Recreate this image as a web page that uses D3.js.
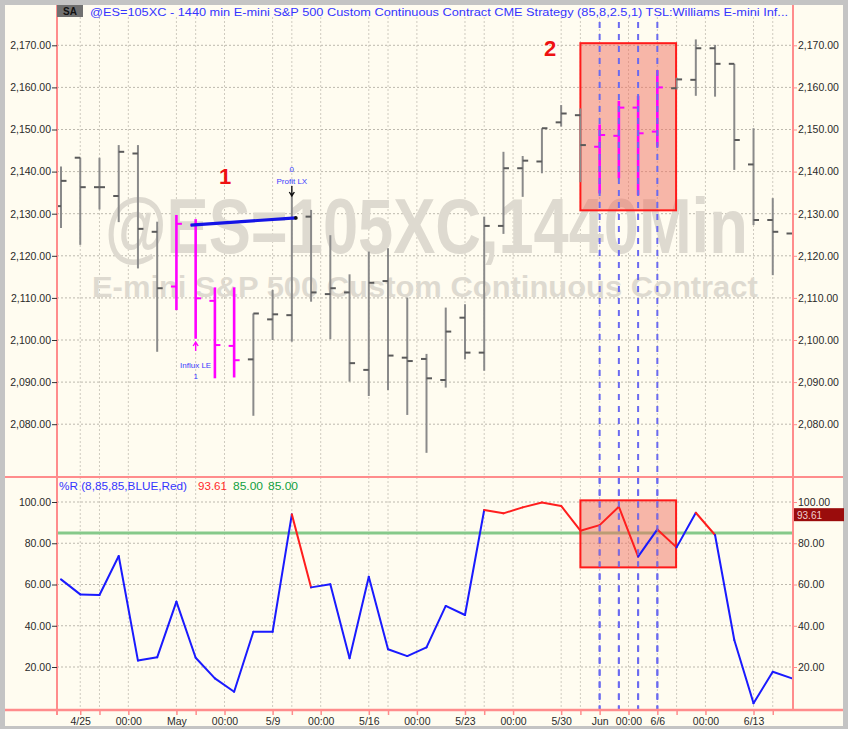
<!DOCTYPE html>
<html><head><meta charset="utf-8">
<script src="https://cdn.jsdelivr.net/npm/d3@7"></script>
<style>body{margin:0;background:#c4c4c4;overflow:hidden}svg{display:block}</style>
</head><body><svg id="c" width="848" height="729"></svg>
<script>
// ---------- data ----------
const dates = ["4/22","4/25","4/26","4/27","4/28","4/29","5/2","5/3","5/4","5/5","5/6","5/9","5/10","5/11","5/12","5/13","5/16","5/17","5/18","5/19","5/20","5/23","5/24","5/25","5/26","5/27","5/30","5/31","6/1","6/2","6/3","6/6","6/7","6/8","6/9","6/10","6/13","6/14","6/15"];
const openP  = [2131.8,2143.3,2136.3,2134.2,2144.3,2125.7,2112.7,2127.3,2109.3,2098.6,2095.4,2104.9,2105.9,2129.3,2110.9,2111.3,2092.9,2114.0,2095.8,2095.5,2090.5,2105.3,2097.0,2127.1,2140.8,2142.4,2151.7,2153.4,2145.9,2148.5,2155.2,2149.5,2159.8,2161.8,2169.3,2165.6,2141.7,2128.5,2125.3];
const highP  = [2141.2,2143.3,2143.3,2146.3,2146.3,2128.1,2129.7,2128.7,2112.5,2112.5,2106.3,2111.9,2134.8,2130.9,2124.9,2115.6,2121.0,2121.8,2110.1,2096.7,2107.7,2108.5,2129.3,2144.7,2143.7,2150.3,2155.8,2155.0,2151.2,2156.8,2158.0,2164.1,2162.3,2171.4,2170.1,2165.6,2150.3,2133.7,2125.3];
const lowP   = [2126.6,2122.6,2131.0,2128.0,2117.0,2097.2,2107.1,2100.3,2090.9,2091.1,2082.0,2100.0,2099.6,2109.1,2100.2,2090.1,2086.7,2088.1,2082.2,2073.2,2088.7,2095.4,2092.7,2125.2,2134.0,2139.6,2150.7,2137.5,2134.8,2138.4,2134.4,2145.9,2159.5,2158.0,2157.8,2140.4,2127.3,2115.4,2125.3];
const closeP = [2137.8,2136.3,2136.3,2144.7,2126.4,2112.3,2127.6,2109.9,2098.8,2095.2,2106.3,2106.1,2128.9,2111.3,2112.3,2094.5,2113.6,2096.3,2095.0,2090.9,2102.0,2097.0,2127.1,2140.8,2142.6,2150.3,2153.8,2146.3,2148.7,2155.2,2149.1,2160.0,2161.9,2169.3,2165.6,2147.5,2128.5,2125.7,2125.3];
const pctR = [62.5,55.2,54.9,73.8,23.1,24.7,51.7,24.5,14.5,8.0,37.1,37.1,94.0,58.6,60.1,24.2,63.8,28.6,25.3,29.5,49.6,45.2,96.1,94.5,97.4,99.8,98.1,86.1,88.8,97.7,73.5,86.7,78.0,94.8,84.0,33.1,2.4,17.7,14.5];
const signalBars = [6,7,8,9,28,29,30,31];
const setupDates = ["6/1","6/2","6/3","6/6"];
const threshold = 85;
const lastPctR = "93.61";
const priceTicks = [2080,2090,2100,2110,2120,2130,2140,2150,2160,2170];
const pctTicks = [20,40,60,80,100];
const xLabelText = ["4/25","00:00","May","00:00","5/9","00:00","5/16","00:00","5/23","00:00","5/30","Jun","00:00","6/6","00:00","6/13"];
const xLabelPos  = [1,3.5,6,8.5,11,13.5,16,18.5,21,23.5,26,28,29.5,31,33.5,36];
const xMinorPos  = [2,7,12,17,22,27,32,37];
const trade = {entryBar:7, entryPrice:2127.3, exitBar:12, exitPrice:2129.0};
const box2 = {fromBar:27, toBar:32, top:2170.5, bottom:2130.8, rTop:100.8, rBottom:68.3};

// ---------- layout ----------
const svg = d3.select("#c");
const L = 57, R = 793, TOP = 5, MID = 477, BOT = 710;
const x = d3.scaleLinear().domain([0, dates.length - 1]).range([61, 792]);
const yP = d3.scaleLinear().domain([2080, 2170]).range([424.2, 45.3]);
const yR = d3.scaleLinear().domain([20, 100]).range([667, 502]);
const font = "'Liberation Sans', Arial, sans-serif";

svg.append("rect").attr("x",5).attr("y",5).attr("width",838).attr("height",721).attr("fill","#fffcf0");

const defs = svg.append("defs");
defs.append("clipPath").attr("id","cu").append("rect").attr("x",L).attr("y",17).attr("width",R-L).attr("height",MID-17);
defs.append("clipPath").attr("id","cl").append("rect").attr("x",L).attr("y",MID+1).attr("width",R-L).attr("height",BOT-MID-1);

// vertical grid
const vg = xLabelPos.concat(xMinorPos);
svg.append("g").selectAll("line").data(vg).join("line")
  .attr("x1",d=>x(d)).attr("x2",d=>x(d)).attr("y1",17).attr("y2",BOT)
  .attr("stroke","#cfcbbf").attr("stroke-width",1).attr("stroke-dasharray","2,2");
// horizontal grid
svg.append("g").selectAll("line").data(priceTicks).join("line")
  .attr("x1",L).attr("x2",R).attr("y1",d=>yP(d)).attr("y2",d=>yP(d))
  .attr("stroke","#bdb9ae").attr("stroke-width",1).attr("stroke-dasharray","2,2");
svg.append("g").selectAll("line").data(pctTicks).join("line")
  .attr("x1",L).attr("x2",R).attr("y1",d=>yR(d)).attr("y2",d=>yR(d))
  .attr("stroke","#bdb9ae").attr("stroke-width",1).attr("stroke-dasharray","2,2");

// watermark (scaled horizontally to the reference's lettering)
const up = svg.append("g").attr("clip-path","url(#cu)");
up.append("text").attr("transform","translate(105,253) scale(0.81,1)")
  .attr("font-family",font).attr("font-weight","bold").attr("font-size",78).attr("fill","#dedad0").text("@ES=105XC,1440Min");
up.append("text").attr("transform","translate(92,297) scale(1.066,1)")
  .attr("font-family",font).attr("font-weight","bold").attr("font-size",29).attr("fill","#dedad0").text("E-mini S&P 500 Custom Continuous Contract");

// upper highlight box
const bx0 = x(box2.fromBar), bx1 = x(box2.toBar) - 0.5;
up.append("rect").attr("x",bx0).attr("y",yP(box2.top)).attr("width",bx1-bx0).attr("height",yP(box2.bottom)-yP(box2.top))
  .attr("fill","#f07060").attr("fill-opacity",0.5).attr("stroke","#ff1a1a").attr("stroke-width",2);

// dashed setup lines
svg.append("g").selectAll("line").data(setupDates).join("line")
  .attr("x1",d=>x(dates.indexOf(d))).attr("x2",d=>x(dates.indexOf(d))).attr("y1",22).attr("y2",BOT)
  .attr("stroke","#6a6af0").attr("stroke-width",2).attr("stroke-dasharray","6,6");

// OHLC bars
const bars = up.append("g").selectAll("g").data(dates).join("g");
const col = (i) => signalBars.includes(i) ? "#ff00ff" : "#8a8a8a";
const tcol = (i) => signalBars.includes(i) ? "#ff00ff" : "#5a5a5a";
bars.append("line").attr("x1",(d,i)=>x(i)).attr("x2",(d,i)=>x(i))
  .attr("y1",(d,i)=>yP(highP[i])).attr("y2",(d,i)=>yP(lowP[i]))
  .attr("stroke",(d,i)=>col(i)).attr("stroke-width",(d,i)=>signalBars.includes(i)?2.6:2);
bars.append("line").attr("x1",(d,i)=>x(i)-5.5).attr("x2",(d,i)=>x(i))
  .attr("y1",(d,i)=>yP(openP[i])).attr("y2",(d,i)=>yP(openP[i]))
  .attr("stroke",(d,i)=>tcol(i)).attr("stroke-width",2);
bars.append("line").attr("x1",(d,i)=>x(i)).attr("x2",(d,i)=>x(i)+5.5)
  .attr("y1",(d,i)=>yP(closeP[i])).attr("y2",(d,i)=>yP(closeP[i]))
  .attr("stroke",(d,i)=>tcol(i)).attr("stroke-width",2);

// trade line
up.append("line").attr("x1",x(trade.entryBar)-5).attr("y1",yP(trade.entryPrice))
  .attr("x2",x(trade.exitBar)+4).attr("y2",yP(trade.exitPrice))
  .attr("stroke","#1414e6").attr("stroke-width",3.2);
up.append("circle").attr("cx",x(trade.exitBar)+4).attr("cy",yP(trade.exitPrice)).attr("r",1.8).attr("fill","#111");

// markers
const ex = x(trade.exitBar);
up.append("text").attr("x",ex).attr("y",172).attr("text-anchor","middle").attr("font-family",font).attr("font-size",8).attr("fill","#3a3aff").text("0");
up.append("text").attr("x",ex).attr("y",184).attr("text-anchor","middle").attr("font-family",font).attr("font-size",8).attr("fill","#3a3aff").text("Profit LX");
up.append("path").attr("d",`M${ex},186V196M${ex-2.5},192L${ex},196L${ex+2.5},192`).attr("stroke","#111").attr("stroke-width",1.4).attr("fill","none");
const enx = x(trade.entryBar);
up.append("path").attr("d",`M${enx},351V342M${enx-2.5},346L${enx},342L${enx+2.5},346`).attr("stroke","#ff00ff").attr("stroke-width",1.4).attr("fill","none");
up.append("text").attr("x",enx).attr("y",368).attr("text-anchor","middle").attr("font-family",font).attr("font-size",8).attr("fill","#3a3aff").text("Influx LE");
up.append("text").attr("x",enx).attr("y",379).attr("text-anchor","middle").attr("font-family",font).attr("font-size",8).attr("fill","#3a3aff").text("1");

// annotation numbers
svg.append("text").attr("x",225).attr("y",184).attr("text-anchor","middle").attr("font-family",font).attr("font-weight","bold").attr("font-size",22).attr("fill","#ee1111").text("1");
svg.append("text").attr("x",550).attr("y",56).attr("text-anchor","middle").attr("font-family",font).attr("font-weight","bold").attr("font-size",22).attr("fill","#ee1111").text("2");

// lower panel
const lo = svg.append("g").attr("clip-path","url(#cl)");
lo.append("line").attr("x1",L).attr("x2",R).attr("y1",yR(threshold)).attr("y2",yR(threshold)).attr("stroke","#86c98a").attr("stroke-width",3);
lo.append("rect").attr("x",bx0).attr("y",yR(box2.rTop)).attr("width",bx1-bx0).attr("height",yR(box2.rBottom)-yR(box2.rTop))
  .attr("fill","#f07060").attr("fill-opacity",0.5).attr("stroke","#ff1a1a").attr("stroke-width",2);
const segs = d3.range(pctR.length-1);
lo.append("g").selectAll("line").data(segs).join("line")
  .attr("x1",i=>x(i)).attr("x2",i=>x(i+1)).attr("y1",i=>yR(pctR[i])).attr("y2",i=>yR(pctR[i+1]))
  .attr("stroke",i=>pctR[i]>threshold?"#ff1e1e":"#1a1aff").attr("stroke-width",2).attr("stroke-linecap","round");
lo.append("g").selectAll("line").data(setupDates).join("line")
  .attr("x1",d=>x(dates.indexOf(d))).attr("x2",d=>x(dates.indexOf(d))).attr("y1",MID).attr("y2",BOT)
  .attr("stroke","#6a6af0").attr("stroke-opacity",0.8).attr("stroke-width",2).attr("stroke-dasharray","6,6");

// frame lines
const red = "#ff8c8c";
svg.append("line").attr("x1",5).attr("x2",843).attr("y1",MID).attr("y2",MID).attr("stroke",red).attr("stroke-width",2);
svg.append("line").attr("x1",5).attr("x2",843).attr("y1",BOT).attr("y2",BOT).attr("stroke",red).attr("stroke-width",2.5);
svg.append("line").attr("x1",L).attr("x2",L).attr("y1",TOP).attr("y2",BOT+5).attr("stroke",red).attr("stroke-width",2);
svg.append("line").attr("x1",R).attr("x2",R).attr("y1",TOP).attr("y2",BOT).attr("stroke",red).attr("stroke-width",2);

// axes
function styleAxis(g){ g.select(".domain").remove(); g.selectAll("text").attr("font-family",font).attr("font-size",10.5).attr("fill","#2a2a2a"); }
svg.append("g").attr("transform",`translate(${L},0)`).call(d3.axisLeft(yP).tickValues(priceTicks).tickFormat(d3.format(",.2f")).tickSize(5).tickPadding(1)).call(styleAxis).selectAll("line").attr("stroke","#333");
svg.append("g").attr("transform",`translate(${R},0)`).call(d3.axisRight(yP).tickValues(priceTicks).tickFormat(d3.format(",.2f")).tickSize(4).tickPadding(1)).call(styleAxis).selectAll("line").attr("stroke",red);
svg.append("g").attr("transform",`translate(${L},0)`).call(d3.axisLeft(yR).tickValues(pctTicks).tickFormat(d3.format(".2f")).tickSize(5).tickPadding(1)).call(styleAxis).selectAll("line").attr("stroke","#333");
svg.append("g").attr("transform",`translate(${R},0)`).call(d3.axisRight(yR).tickValues(pctTicks).tickFormat(d3.format(".2f")).tickSize(4).tickPadding(1)).call(styleAxis).selectAll("line").attr("stroke",red);
svg.append("g").attr("transform",`translate(0,${BOT})`).call(d3.axisBottom(x).tickValues(xLabelPos).tickFormat((d,i)=>xLabelText[i]).tickSize(5).tickPadding(3)).call(styleAxis).selectAll("line").attr("stroke",red).attr("stroke-width",1.5);
svg.append("g").attr("transform",`translate(0,${BOT})`).call(d3.axisBottom(x).tickValues(xMinorPos).tickFormat("").tickSize(5)).call(styleAxis).selectAll("line").attr("stroke",red).attr("stroke-width",1.5);

// last value tag
svg.append("rect").attr("x",R+1).attr("y",yR(+lastPctR)-7).attr("width",50).attr("height",13).attr("fill","#9a0c0c");
svg.append("text").attr("x",R+4).attr("y",yR(+lastPctR)+4).attr("font-family",font).attr("font-size",10).attr("fill","#f0d0d0").text(lastPctR);

// headers
svg.append("rect").attr("x",L).attr("y",5).attr("width",26).attr("height",12).attr("fill","#707070");
svg.append("text").attr("x",L+13).attr("y",15).attr("text-anchor","middle").attr("font-family",font).attr("font-weight","bold").attr("font-size",10).attr("fill","#111").text("SA");
svg.append("text").attr("x",90).attr("y",15.5).attr("textLength",698).attr("lengthAdjust","spacingAndGlyphs")
  .attr("font-family",font).attr("font-size",11).attr("fill","#3535ff")
  .text("@ES=105XC - 1440 min  E-mini S&P 500 Custom Continuous Contract  CME  Strategy (85,8,2.5,1)  TSL:Williams E-mini Inf...");
const hdr = [["%R (8,85,85,BLUE,Red)",59,128,"#3535ff"],[lastPctR,198,29,"#ff2a2a"],["85.00",233,30,"#10a040"],["85.00",268,30,"#10a040"]];
svg.append("g").selectAll("text").data(hdr).join("text")
  .attr("x",d=>d[1]).attr("y",489.5).attr("textLength",d=>d[2]).attr("lengthAdjust","spacingAndGlyphs")
  .attr("font-family",font).attr("font-size",11).attr("fill",d=>d[3]).text(d=>d[0]);
</script></body></html>
